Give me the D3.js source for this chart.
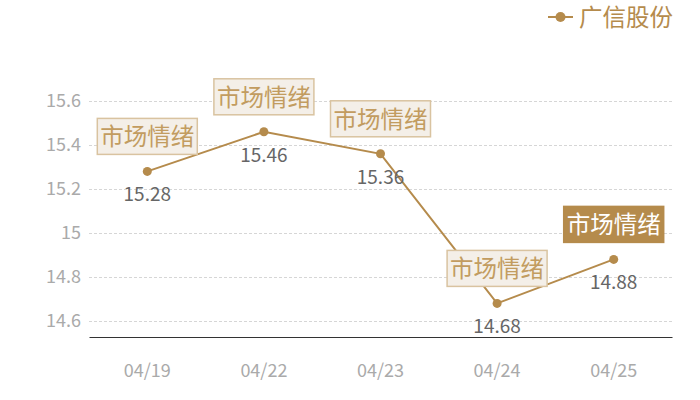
<!DOCTYPE html>
<html>
<head>
<meta charset="utf-8">
<script src="https://cdn.jsdelivr.net/npm/d3@7"></script>
<style>
  body { margin: 0; background: #fff; }
  svg { display: block; font-family: "Noto Sans CJK SC", "Noto Sans", sans-serif; }
</style>
</head>
<body>
<div id="chart"></div>
<script>
// Data
const dates = ['04/19', '04/22', '04/23', '04/24', '04/25']
const prices = [15.28, 15.46, 15.36, 14.68, 14.88]
const notes = ['市场情绪', '市场情绪', '市场情绪', '市场情绪', '市场情绪']
const yTicks = [14.6, 14.8, 15, 15.2, 15.4, 15.6]
const seriesName = '广信股份'

const gold = '#b58b4c'

const dimensions = {
  width: 700,
  height: 400,
  left: 89,
  right: 672,
  top: 101,
  bottom: 337,
}

const svg = d3.select('#chart')
  .append('svg')
  .attr('width', dimensions.width)
  .attr('height', dimensions.height)

// Scales
const xScale = d3.scaleBand()
  .domain(dates)
  .range([dimensions.left, dimensions.right])

const yScale = d3.scaleLinear()
  .domain([14.6 - 16 / 220, 15.6])
  .range([dimensions.bottom, dimensions.top])

const xPos = d => xScale(d) + xScale.bandwidth() / 2

// Grid
svg.append('g')
  .selectAll('line')
  .data(yTicks)
  .join('line')
  .attr('x1', dimensions.left)
  .attr('x2', dimensions.right)
  .attr('y1', d => Math.round(yScale(d)) + 0.5)
  .attr('y2', d => Math.round(yScale(d)) + 0.5)
  .attr('stroke', '#d6d6d6')
  .attr('stroke-dasharray', '3,2')

// Y axis
const yAxis = d3.axisLeft(yScale)
  .tickValues(yTicks)
  .tickFormat(d => String(d))
  .tickSize(0)
  .tickPadding(8)

svg.append('g')
  .attr('transform', `translate(${dimensions.left}, 0)`)
  .call(yAxis)
  .call(g => g.select('.domain').remove())
  .call(g => g.selectAll('text')
    .attr('fill', '#aaaaaa')
    .style('font-size', '18px')
    .style('font-family', '"Noto Sans CJK SC", sans-serif'))

// X axis
const xAxis = d3.axisBottom(xScale)
  .tickSize(0)
  .tickPadding(27)

svg.append('g')
  .attr('transform', `translate(0, ${dimensions.bottom})`)
  .call(xAxis)
  .call(g => g.select('.domain').attr('stroke', '#333').attr('stroke-width', 1.2))
  .call(g => g.selectAll('text')
    .attr('fill', '#aaaaaa')
    .style('font-size', '18px')
    .style('font-family', '"Noto Sans CJK SC", sans-serif'))

// Line
const points = dates.map((d, i) => ({ date: d, value: prices[i], note: notes[i], i }))

svg.append('path')
  .datum(points)
  .attr('fill', 'none')
  .attr('stroke', gold)
  .attr('stroke-width', 2)
  .attr('d', d3.line().x(d => xPos(d.date)).y(d => yScale(d.value)))

svg.append('g')
  .selectAll('circle')
  .data(points)
  .join('circle')
  .attr('cx', d => xPos(d.date))
  .attr('cy', d => yScale(d.value))
  .attr('r', 4.5)
  .attr('fill', gold)

// Value labels
svg.append('g')
  .selectAll('text')
  .data(points)
  .join('text')
  .attr('x', d => xPos(d.date))
  .attr('y', d => yScale(d.value) + 30)
  .attr('text-anchor', 'middle')
  .attr('fill', '#666')
  .style('font-size', '19px')
  .text(d => d.value.toFixed(2))

// Annotation boxes
const notesG = svg.append('g')
  .selectAll('g')
  .data(points)
  .join('g')
  .attr('transform', d => `translate(${xPos(d.date)}, ${yScale(d.value) - 17})`)

notesG.append('rect')
  .attr('x', -50)
  .attr('y', -36)
  .attr('width', 100)
  .attr('height', 36)
  .attr('fill', d => d.i === points.length - 1 ? gold : '#f4efe8')
  .attr('stroke', d => d.i === points.length - 1 ? gold : '#d9c3a0')
  .attr('stroke-width', 1.5)

notesG.append('text')
  .attr('y', -9)
  .attr('text-anchor', 'middle')
  .attr('fill', d => d.i === points.length - 1 ? '#fff' : '#c29c60')
  .style('font-size', '23.5px')
  .text(d => d.note)

// Legend
const legend = svg.append('g')
  .attr('transform', 'translate(548, 17)')

legend.append('line')
  .attr('x1', 0)
  .attr('x2', 25)
  .attr('stroke', gold)
  .attr('stroke-width', 2)

legend.append('circle')
  .attr('cx', 12.5)
  .attr('r', 5)
  .attr('fill', gold)

legend.append('text')
  .attr('x', 31)
  .attr('y', 8.5)
  .attr('fill', gold)
  .style('font-size', '23.5px')
  .text(seriesName)
</script>
</body>
</html>
